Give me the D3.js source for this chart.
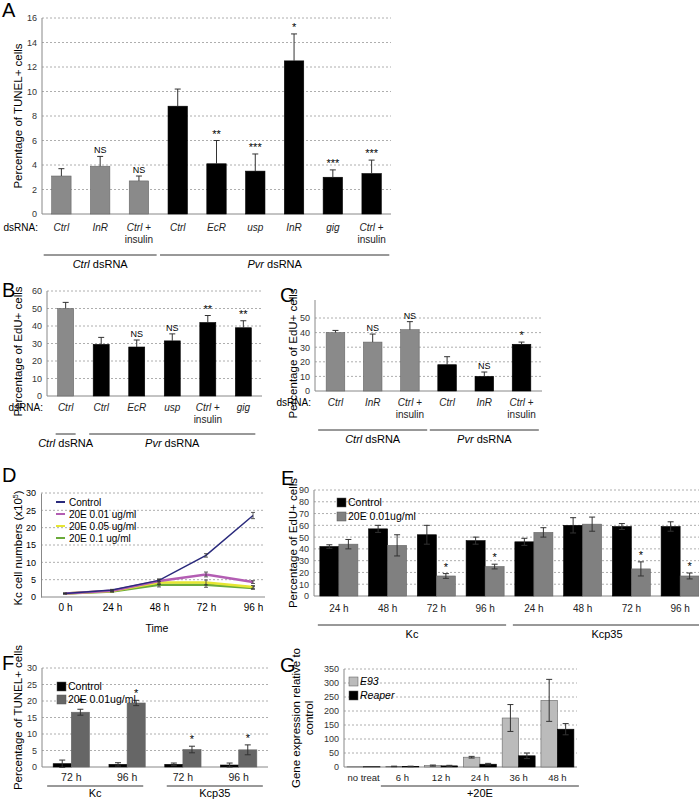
<!DOCTYPE html><html><head><meta charset="utf-8"><script src="https://cdn.jsdelivr.net/npm/d3@7"></script>
<style>body{margin:0;background:#fff}svg{font-family:"Liberation Sans",Arial,sans-serif}</style></head><body>
<script>
// ---- data ----
const aCats=["Ctrl","InR","Ctrl +|insulin","Ctrl","EcR","usp","InR","gig","Ctrl +|insulin"];
const aVals=[3.1,3.9,2.7,8.8,4.1,3.5,12.5,3.0,3.3];
const aErr=[0.6,0.8,0.4,1.4,1.9,1.4,2.2,0.6,1.1];
const aSig=["","NS","NS","","**","***","*","***","***"];
const aGroup=[0,0,0,1,1,1,1,1,1];
const bCats=["Ctrl","Ctrl","EcR","usp","Ctrl +|insulin","gig"];
const bVals=[50,29.5,28,31.5,42,39];
const bErr=[3.5,4,4,4,4,4];
const bSig=["","","NS","NS","**","**"];
const bGroup=[0,1,1,1,1,1];
const cCats=["Ctrl","InR","Ctrl +|insulin","Ctrl","InR","Ctrl +|insulin"];
const cVals=[40,33.5,42,18,10,32];
const cErr=[1.5,5.5,5.5,5.5,3,1.5];
const cSig=["","NS","NS","","NS","*"];
const cGroup=[0,0,0,1,1,1];
const dTimes=["0 h","24 h","48 h","72 h","96 h"];
const dNames=["Control","20E 0.01 ug/ml","20E 0.05 ug/ml","20E 0.1 ug/ml"];
const dControl=[1,2,4.8,12,23.5];
const d001=[1,1.8,4.6,6.5,4.3];
const d005=[1,1.7,4.2,4.2,2.9];
const d01=[1,1.6,3.5,3.5,2.6];
const dErrC=[0.1,0.2,0.3,0.5,0.9];
const dErrT=[0.1,0.2,0.6,0.7,0.4];
const eCats=["24 h","48 h","72 h","96 h","24 h","48 h","72 h","96 h"];
const eCtrl=[42,57,52,47,46,60,59,59];
const eCtrlErr=[1.5,3,8,3,3,6.5,2.5,4];
const eTreat=[44,43,17,25,54,61,23,17];
const eTreatErr=[4,9,2,2,4,6,6,2.5];
const eSig=["","","*","*","","","*","*"];
const fCats=["72 h","96 h","72 h","96 h"];
const fCtrl=[1,0.8,0.8,0.6];
const fCtrlErr=[1.1,0.5,0.4,0.6];
const fTreat=[16.6,19.4,5.3,5.2];
const fTreatErr=[0.9,0.8,1,1.5];
const fSig=["*","*","*","*"];
const gCats=["no treat","6 h","12 h","24 h","36 h","48 h"];
const gE93=[1,2,5,35,175,238];
const gE93Err=[0,1,2,3,48,75];
const gReaper=[1,2,4,10,40,135];
const gReaperErr=[0,1,2,3,10,20];

const svg=d3.select("body").append("svg").attr("width",699).attr("height",800);
const GREY="#8a8a8a",BLACK="#000";

function letter(t,x,y){svg.append("text").attr("x",x).attr("y",y).attr("font-size",20).text(t);}

function panel(o){
  const g=svg.append("g");
  const y=d3.scaleLinear().domain(o.ydom).range(o.yr);
  const x=d3.scaleBand().domain(d3.range(o.n)).range(o.xr).paddingInner(o.pin||0.4).paddingOuter(o.pout||0.3);
  g.selectAll("line.grid").data(o.ticks.filter(t=>t>0)).join("line")
   .attr("x1",o.xr[0]).attr("x2",o.gridEnd||o.xr[1]).attr("y1",y).attr("y2",y)
   .attr("stroke","#999").attr("stroke-dasharray","2,2").attr("stroke-width",0.8);
  const ax=g.append("g").attr("transform",`translate(${o.xr[0]},0)`).call(d3.axisLeft(y).tickValues(o.ticks).tickSize(0).tickPadding(5));
  ax.select(".domain").attr("stroke","#888").attr("d",`M0,${o.yTop||o.yr[1]}V${o.yr[0]}`);
  ax.selectAll("text").attr("font-size",9).attr("fill","#333");
  g.append("line").attr("x1",o.xr[0]).attr("x2",o.gridEnd||o.xr[1]).attr("y1",o.yr[0]).attr("y2",o.yr[0]).attr("stroke","#888");
  const sub=d3.scaleBand().domain(d3.range(o.series.length)).range([0,x.bandwidth()]);
  o.series.forEach((s,si)=>{
    s.vals.forEach((v,i)=>{
      const bx=x(i)+sub(si), bw=sub.bandwidth();
      const col=s.colorFn?s.colorFn(i):s.color;
      g.append("rect").attr("x",bx).attr("y",y(v)).attr("width",bw).attr("height",y(0)-y(v))
        .attr("fill",col).attr("stroke",col==BLACK?"#000":"#666").attr("stroke-width",0.6);
      const cx=bx+bw/2, e=s.errs[i];
      if(e>0){
        if(o.twoSided){
          g.append("line").attr("x1",cx).attr("x2",cx).attr("y1",y(v-e)).attr("y2",y(v+e)).attr("stroke","#333");
          g.append("line").attr("x1",cx-3).attr("x2",cx+3).attr("y1",y(v-e)).attr("y2",y(v-e)).attr("stroke","#333");
        } else g.append("line").attr("x1",cx).attr("x2",cx).attr("y1",y(v)).attr("y2",y(v+e)).attr("stroke","#333");
        g.append("line").attr("x1",cx-3).attr("x2",cx+3).attr("y1",y(v+e)).attr("y2",y(v+e)).attr("stroke","#333");
      }
      if(s.sig&&s.sig[i]) g.append("text").attr("x",cx).attr("y",y(v+e)-3).attr("text-anchor","middle").attr("font-size",s.sig[i]=="NS"?9:11).text(s.sig[i]);
    });
  });
  o.cats.forEach((c,i)=>{
    const cx=x(i)+x.bandwidth()/2;
    c.split("|").forEach((p,k)=>{
      const t=g.append("text").attr("x",cx).attr("y",o.labY+k*12).attr("text-anchor","middle").attr("font-size",o.labSize||10).attr("fill","#222");
      if(o.italic&&k==0){ if(p.startsWith("Ctrl +")){t.append("tspan").attr("font-style","italic").text("Ctrl");t.append("tspan").text(" +");} else t.attr("font-style","italic").text(p);} else t.text(p);
    });
  });
  if(o.dsLabel) g.append("text").attr("x",o.xr[0]-4).attr("y",o.labY).attr("text-anchor","end").attr("font-size",10).text("dsRNA:");
  (o.groups||[]).forEach(gr=>{
    const x1=x(gr.from)+(gr.padL||-8), x2=x(gr.to)+x.bandwidth()+(gr.padR||8);
    g.append("line").attr("x1",x1).attr("x2",x2).attr("y1",o.grpY).attr("y2",o.grpY).attr("stroke","#333");
    const t=g.append("text").attr("x",(x1+x2)/2).attr("y",o.grpY+(o.grpDy||13)).attr("text-anchor","middle").attr("font-size",11);
    if(gr.it){t.append("tspan").attr("font-style","italic").text(gr.it);t.append("tspan").text(gr.rest);} else t.text(gr.label);
  });
  const yt=g.append("text").attr("transform",`translate(${o.ytX},${(o.yr[0]+(o.yTop||o.yr[1]))/2+(o.ytDy||0)}) rotate(-90)`).attr("text-anchor","middle").attr("font-size",11.5);
  o.ytitle.split("|").forEach((p,k)=>yt.append("tspan").attr("x",0).attr("dy",k?13:0).text(p));
  return {x,y,g};
}

function legend(items,x,y,dy){
  items.forEach((it,i)=>{
    svg.append("rect").attr("x",x).attr("y",y+i*dy-8).attr("width",9).attr("height",9).attr("fill",it.c).attr("stroke","#555").attr("stroke-width",0.5);
    const t=svg.append("text").attr("x",x+11).attr("y",y+i*dy).attr("font-size",10.5).text(it.t);
    if(it.it) t.attr("font-style","italic");
  });
}

// A
letter("A",2,17);
panel({n:9,xr:[42,391],pin:0.5,pout:0.25,ydom:[0,16],yr:[214,18],ticks:d3.range(0,17,2),cats:aCats,italic:true,dsLabel:true,labY:231,
  series:[{vals:aVals,errs:aErr,sig:aSig,colorFn:i=>aGroup[i]?BLACK:GREY}],grpY:255,
  groups:[{from:0,to:2,it:"Ctrl",rest:" dsRNA"},{from:3,to:8,it:"Pvr",rest:" dsRNA"}],ytX:22,ytitle:"Percentage of TUNEL+ cells"});
// B
letter("B",2,297);
panel({n:6,xr:[47,262],pin:0.55,pout:0.3,ydom:[0,60],yr:[396,291],ticks:d3.range(0,61,10),cats:bCats,italic:true,dsLabel:true,labY:411,
  series:[{vals:bVals,errs:bErr,sig:bSig,colorFn:i=>bGroup[i]?BLACK:GREY}],grpY:434,
  groups:[{from:0,to:0,it:"Ctrl",rest:" dsRNA",padL:-2,padR:2},{from:1,to:5,it:"Pvr",rest:" dsRNA",padL:-4,padR:4}],ytX:22,ytDy:8,ytitle:"Percentage of EdU+ cells"});
// C
letter("C",280,302);
panel({n:6,xr:[315,542],pin:0.5,pout:0.3,ydom:[0,50],yr:[391,318],yTop:300,ticks:d3.range(0,51,10),cats:cCats,italic:true,dsLabel:true,labY:406,
  series:[{vals:cVals,errs:cErr,sig:cSig,colorFn:i=>cGroup[i]?BLACK:GREY}],grpY:430,
  groups:[{from:0,to:2,it:"Ctrl",rest:" dsRNA"},{from:3,to:5,it:"Pvr",rest:" dsRNA"}],ytX:297,ytDy:8,ytitle:"Percentage of EdU+ cells"});

// D line chart
letter("D",2,482);
(function(){
  const g=svg.append("g");
  const x=d3.scalePoint().domain(dTimes).range([65,253]);
  const y=d3.scaleLinear().domain([0,30]).range([597,493]);
  const ticks=[0,5,10,15,20,25,30];
  g.selectAll("line.gr").data(ticks.filter(t=>t>0)).join("line").attr("x1",41).attr("x2",265).attr("y1",y).attr("y2",y).attr("stroke","#999").attr("stroke-dasharray","2,2").attr("stroke-width",0.8);
  const ax=g.append("g").attr("transform","translate(41,0)").call(d3.axisLeft(y).tickValues(ticks).tickSize(0).tickPadding(5));
  ax.select(".domain").attr("stroke","#888");ax.selectAll("text").attr("font-size",9);
  const bx=g.append("g").attr("transform","translate(0,597)").call(d3.axisBottom(x).tickSize(0).tickPadding(7));
  bx.select(".domain").attr("stroke","#888").attr("d","M41,0H265");bx.selectAll("text").attr("font-size",10);
  g.append("text").attr("x",157).attr("y",632).attr("text-anchor","middle").attr("font-size",10.5).text("Time");
  const yt=g.append("text").attr("transform","translate(22,548) rotate(-90)").attr("text-anchor","middle").attr("font-size",11.5).text("Kc cell numbers (x10");
  yt.append("tspan").attr("dy",-4).attr("font-size",7).text("5");yt.append("tspan").attr("dy",4).text(")");
  const cols=["#2a2a7c","#b35db3","#e6e633","#6aaa3a"];
  const sers=[d01,d005,d001,dControl], sc=[cols[3],cols[2],cols[1],cols[0]], se=[dErrT,dErrT,dErrT,dErrC];
  const line=d3.line().x((d,i)=>x(dTimes[i])).y(d=>y(d));
  sers.forEach((s,k)=>{
    g.append("path").attr("d",line(s)).attr("fill","none").attr("stroke",sc[k]).attr("stroke-width",k==3?1.5:2.5);
    s.forEach((v,i)=>{const cx=x(dTimes[i]);const e=se[k][i];
      g.append("line").attr("x1",cx).attr("x2",cx).attr("y1",y(v-e)).attr("y2",y(v+e)).attr("stroke","#333").attr("stroke-width",0.8);
      [v-e,v+e].forEach(w=>g.append("line").attr("x1",cx-2).attr("x2",cx+2).attr("y1",y(w)).attr("y2",y(w)).attr("stroke","#333").attr("stroke-width",0.8));});
  });
  dNames.forEach((n,i)=>{
    g.append("line").attr("x1",56).attr("x2",65).attr("y1",502+i*12).attr("y2",502+i*12).attr("stroke",cols[i]).attr("stroke-width",2);
    g.append("text").attr("x",69).attr("y",506+i*12).attr("font-size",10).text(n);
  });
})();

// E
letter("E",281,485);
panel({n:8,xr:[314,705],gridEnd:699,pin:0.22,pout:0.12,ydom:[0,90],yr:[596,490],ticks:d3.range(0,91,10),cats:eCats,labY:612,twoSided:true,
  series:[{vals:eCtrl,errs:eCtrlErr,color:BLACK},{vals:eTreat,errs:eTreatErr,sig:eSig,color:"#808080"}],grpY:625,
  groups:[{from:0,to:3,label:"Kc",padL:-2,padR:2},{from:4,to:7,label:"Kcp35",padL:-2,padR:2}],ytX:297,ytitle:"Percentage of EdU+ cells"});
legend([{t:"Control",c:BLACK},{t:"20E 0.01ug/ml",c:"#808080"}],337,506,14);

// F
letter("F",2,670);
panel({n:4,xr:[42,268],pin:0.35,pout:0.2,ydom:[0,30],yr:[767,668],ticks:d3.range(0,31,5),cats:fCats,labY:781,twoSided:true,labSize:10.5,
  series:[{vals:fCtrl,errs:fCtrlErr,color:BLACK},{vals:fTreat,errs:fTreatErr,sig:fSig,color:"#666"}],grpY:786,grpDy:11,
  groups:[{from:0,to:1,label:"Kc",padL:-6,padR:-2},{from:2,to:3,label:"Kcp35",padL:2,padR:6}],ytX:22,ytitle:"Percentage of TUNEL+ cells"});
legend([{t:"Control",c:BLACK},{t:"20E 0.01ug/ml",c:"#666"}],57,690,13);

// G
letter("G",280,672);
panel({n:6,xr:[344,577],pin:0.15,pout:0.08,ydom:[0,350],yr:[767,669],ticks:d3.range(0,351,50),cats:gCats,labY:781,twoSided:true,labSize:9.5,
  series:[{vals:gE93,errs:gE93Err,color:"#bbbbbb"},{vals:gReaper,errs:gReaperErr,color:BLACK}],grpY:786,grpDy:11,
  groups:[{from:1,to:5,label:"+20E",padL:-5,padR:5}],ytX:300,ytitle:"Gene expression relative to|control"});
legend([{t:"E93",c:"#bbbbbb",it:1},{t:"Reaper",c:BLACK,it:1}],349,685,14);
</script></body></html>
